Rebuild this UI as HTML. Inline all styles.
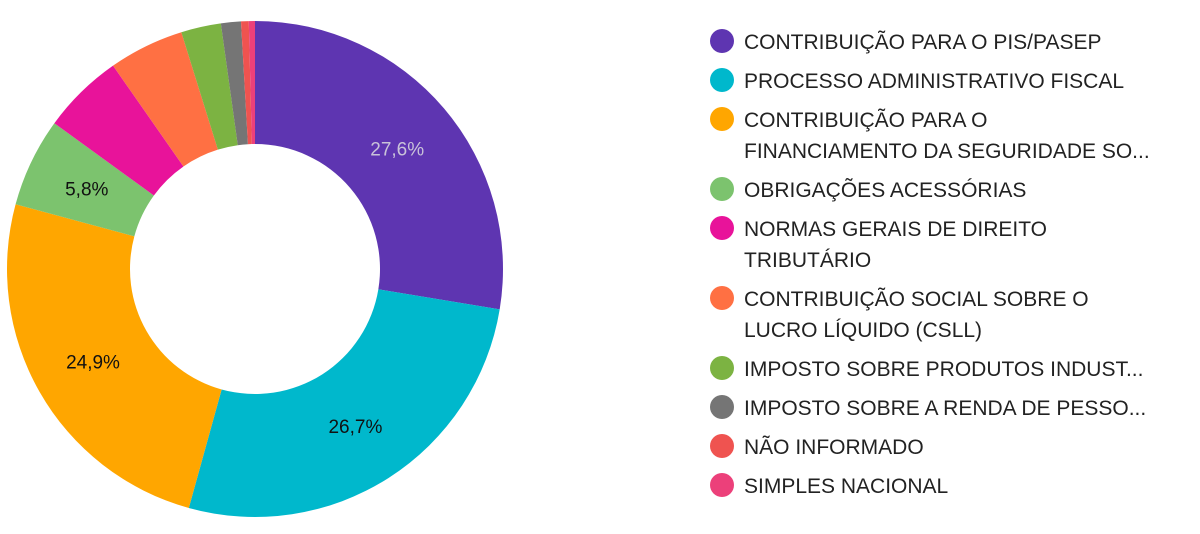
<!DOCTYPE html>
<html><head><meta charset="utf-8"><style>
body{margin:0;background:#fff;width:1200px;height:529px;overflow:hidden;font-family:"Liberation Sans",sans-serif;}
svg text{font-family:"Liberation Sans",sans-serif;}
</style></head><body>
<svg id="chart" width="1200" height="529" xmlns="http://www.w3.org/2000/svg"></svg>
<script>
const categories=["CONTRIBUIÇÃO PARA O PIS/PASEP","PROCESSO ADMINISTRATIVO FISCAL","CONTRIBUIÇÃO PARA O FINANCIAMENTO DA SEGURIDADE SOCIAL","OBRIGAÇÕES ACESSÓRIAS","NORMAS GERAIS DE DIREITO TRIBUTÁRIO","CONTRIBUIÇÃO SOCIAL SOBRE O LUCRO LÍQUIDO (CSLL)","IMPOSTO SOBRE PRODUTOS INDUSTRIALIZADOS","IMPOSTO SOBRE A RENDA DE PESSOA FÍSICA","NÃO INFORMADO","SIMPLES NACIONAL"];
const legendLines=[["CONTRIBUIÇÃO PARA O PIS/PASEP"],["PROCESSO ADMINISTRATIVO FISCAL"],["CONTRIBUIÇÃO PARA O","FINANCIAMENTO DA SEGURIDADE SO..."],["OBRIGAÇÕES ACESSÓRIAS"],["NORMAS GERAIS DE DIREITO","TRIBUTÁRIO"],["CONTRIBUIÇÃO SOCIAL SOBRE O","LUCRO LÍQUIDO (CSLL)"],["IMPOSTO SOBRE PRODUTOS INDUST..."],["IMPOSTO SOBRE A RENDA DE PESSO..."],["NÃO INFORMADO"],["SIMPLES NACIONAL"]];
const values=[27.6,26.7,24.9,5.8,5.3,4.9,2.6,1.3,0.5,0.4];
const colors=["#5e35b1","#00b8cc","#ffa600","#7cc36e","#e8139a","#ff7043","#7cb342","#757575","#ef5350","#ec407a"];
const labelColors=["#c9c3d9","#111","#111","#111","#111","#111","#111","#111","#111","#111"];
const NS="http://www.w3.org/2000/svg";
const svg=document.getElementById('chart');
const cx=255,cy=269,R=248,r=125;
const total=values.reduce((a,b)=>a+b,0);
function pt(a,rad){return [cx+rad*Math.sin(a),cy-rad*Math.cos(a)];}
let acc=0;
values.forEach((v,i)=>{
  const a0=acc/total*2*Math.PI; acc+=v; const a1=acc/total*2*Math.PI;
  const large=(a1-a0)>Math.PI?1:0;
  const [x0,y0]=pt(a0,R),[x1,y1]=pt(a1,R),[x2,y2]=pt(a1,r),[x3,y3]=pt(a0,r);
  const p=document.createElementNS(NS,'path');
  p.setAttribute('d',`M${x0},${y0}A${R},${R} 0 ${large} 1 ${x1},${y1}L${x2},${y2}A${r},${r} 0 ${large} 0 ${x3},${y3}Z`);
  p.setAttribute('fill',colors[i]);
  
  
  svg.appendChild(p);
  if(v/total*100>=5.5){
    const [lx,ly]=pt((a0+a1)/2,(R+r)/2);
    const t=document.createElementNS(NS,'text');
    t.setAttribute('x',lx);t.setAttribute('y',ly+7);
    t.setAttribute('text-anchor','middle');t.setAttribute('font-size','19');
    t.setAttribute('fill',labelColors[i]);
    t.textContent=v.toFixed(1).replace('.',',')+'%';
    
    
    svg.appendChild(t);
  }
});
let y=41;
legendLines.forEach((lines,i)=>{
  const g=document.createElementNS(NS,'g');
  
  
  const c=document.createElementNS(NS,'circle');
  c.setAttribute('cx',722);c.setAttribute('cy',y);c.setAttribute('r',12);c.setAttribute('fill',colors[i]);
  g.appendChild(c);
  lines.forEach((ln,j)=>{
    const t=document.createElementNS(NS,'text');
    t.setAttribute('x',744);t.setAttribute('y',y+8+j*31);
    t.setAttribute('font-size','21');t.setAttribute('fill','#222');
    t.textContent=ln;
    g.appendChild(t);
  });
  svg.appendChild(g);
  y+=39+(lines.length-1)*31;
});
</script>
</body></html>
